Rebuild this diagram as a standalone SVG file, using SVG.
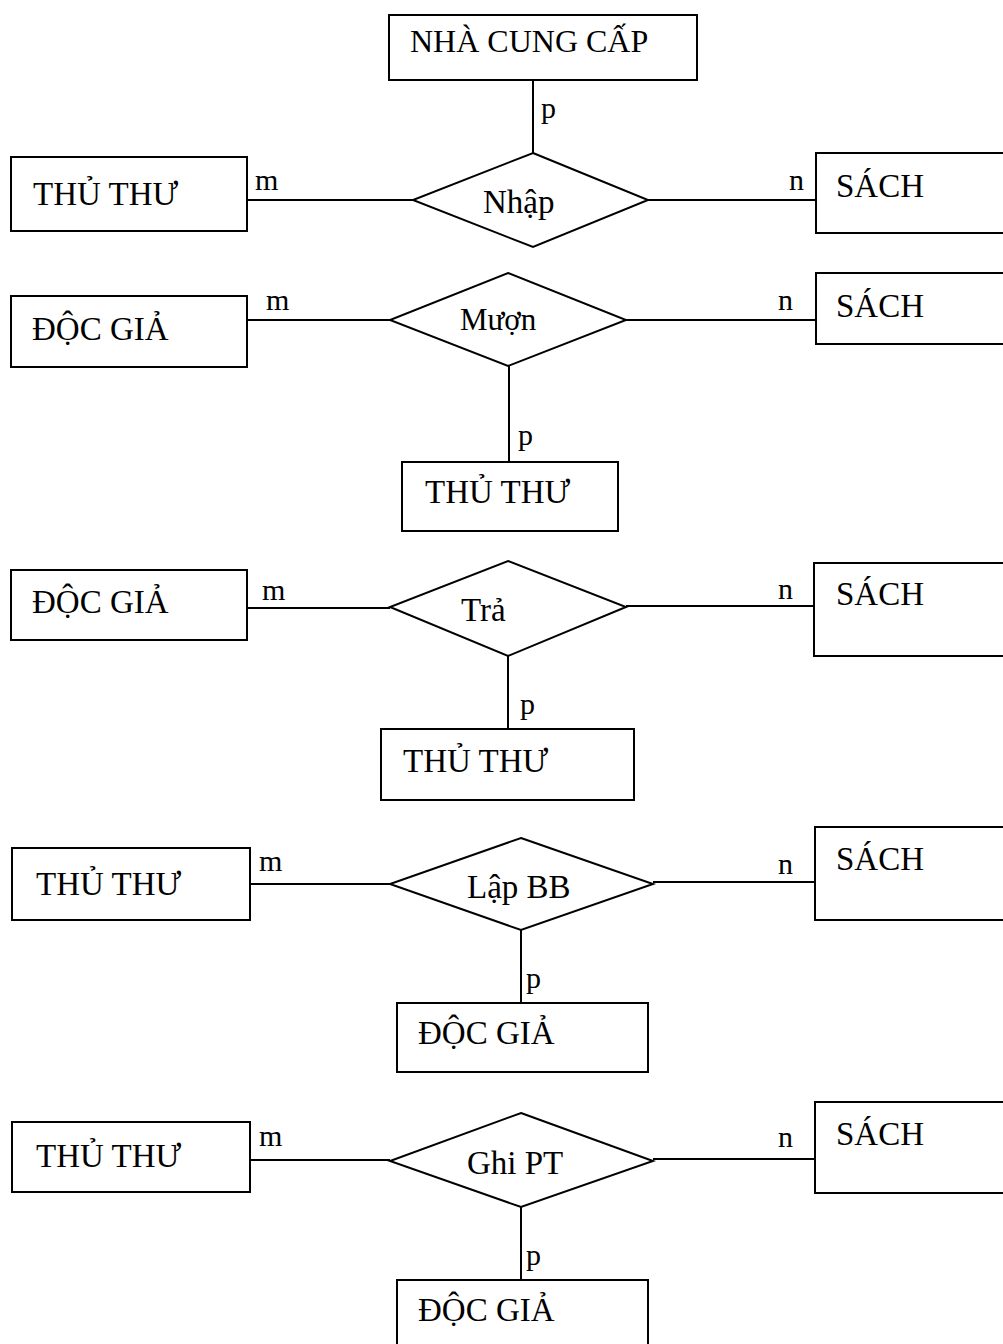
<svg xmlns="http://www.w3.org/2000/svg" width="1003" height="1344" viewBox="0 0 1003 1344">
  <style>
    .box { fill: #ffffff; stroke: #000000; stroke-width: 2; }
    .rel { fill: #ffffff; stroke: #000000; stroke-width: 2; }
    .ln { stroke: #000000; stroke-width: 2; fill: none; }
    .t { font-family: "Liberation Serif", "Times New Roman", serif; font-size: 33px; fill: #000000; }
    .tw { font-family: "Liberation Serif", "Times New Roman", serif; font-size: 32px; fill: #000000; }
    .rt { font-family: "Liberation Serif", "Times New Roman", serif; font-size: 33px; fill: #000000; }
    .rs { font-family: "Liberation Serif", "Times New Roman", serif; font-size: 31px; fill: #000000; }
    .c { font-family: "Liberation Serif", "Times New Roman", serif; font-size: 30px; fill: #000000; }
  </style>
  <rect width="1003" height="1344" fill="#ffffff"/>

  <!-- connectors and cardinality labels -->
  <g id="connectors">
    <!-- Nhập -->
    <line class="ln" x1="533" y1="80" x2="533" y2="153"/>
    <line class="ln" x1="247" y1="200" x2="413" y2="200"/>
    <line class="ln" x1="648" y1="200" x2="816" y2="200"/>
    <text class="c" x="541" y="118">p</text>
    <text class="c" x="255" y="190">m</text>
    <text class="c" x="789" y="190">n</text>
    <!-- Mượn -->
    <line class="ln" x1="247" y1="320" x2="390" y2="320"/>
    <line class="ln" x1="626" y1="320" x2="816" y2="320"/>
    <line class="ln" x1="509" y1="366" x2="509" y2="462"/>
    <text class="c" x="266" y="310">m</text>
    <text class="c" x="778" y="310">n</text>
    <text class="c" x="518" y="445">p</text>
    <!-- Trả -->
    <line class="ln" x1="247" y1="608" x2="390" y2="608"/>
    <line class="ln" x1="626" y1="606" x2="814" y2="606"/>
    <line class="ln" x1="508" y1="656" x2="508" y2="729"/>
    <text class="c" x="262" y="600">m</text>
    <text class="c" x="778" y="599">n</text>
    <text class="c" x="520" y="714">p</text>
    <!-- Lập BB -->
    <line class="ln" x1="250" y1="884" x2="390" y2="884"/>
    <line class="ln" x1="653" y1="882" x2="816" y2="882"/>
    <line class="ln" x1="521" y1="930" x2="521" y2="1003"/>
    <text class="c" x="259" y="871">m</text>
    <text class="c" x="778" y="874">n</text>
    <text class="c" x="526" y="988">p</text>
    <!-- Ghi PT -->
    <line class="ln" x1="250" y1="1160" x2="390" y2="1160"/>
    <line class="ln" x1="653" y1="1159" x2="816" y2="1159"/>
    <line class="ln" x1="521" y1="1207" x2="521" y2="1280"/>
    <text class="c" x="259" y="1146">m</text>
    <text class="c" x="778" y="1147">n</text>
    <text class="c" x="526" y="1265">p</text>
  </g>

  <!-- Nhập relationship -->
  <g id="nha-cung-cap">
    <rect class="box" x="389" y="15" width="308" height="65"/>
    <text class="tw" x="410" y="52">NHÀ CUNG CẤP</text>
  </g>
  <g id="thu-thu-1">
    <rect class="box" x="11" y="157" width="236" height="74"/>
    <text class="t" x="33" y="205">THỦ THƯ</text>
  </g>
  <g id="nhap">
    <polygon class="rel" points="533,153 648,200 533,247 413,200"/>
    <text class="rt" x="483" y="213">Nhập</text>
  </g>
  <g id="sach-1">
    <rect class="box" x="816" y="153" width="200" height="80"/>
    <text class="t" x="836" y="197">SÁCH</text>
  </g>

  <!-- Mượn relationship -->
  <g id="doc-gia-1">
    <rect class="box" x="11" y="296" width="236" height="71"/>
    <text class="t" x="32" y="340">ĐỘC GIẢ</text>
  </g>
  <g id="muon">
    <polygon class="rel" points="508,273 626,320 508,366 390,320"/>
    <text class="rs" x="460" y="330">Mượn</text>
  </g>
  <g id="sach-2">
    <rect class="box" x="816" y="273" width="200" height="71"/>
    <text class="t" x="836" y="317">SÁCH</text>
  </g>
  <g id="thu-thu-2">
    <rect class="box" x="402" y="462" width="216" height="69"/>
    <text class="t" x="425" y="503">THỦ THƯ</text>
  </g>

  <!-- Trả relationship -->
  <g id="doc-gia-2">
    <rect class="box" x="11" y="570" width="236" height="70"/>
    <text class="t" x="32" y="613">ĐỘC GIẢ</text>
  </g>
  <g id="tra">
    <polygon class="rel" points="508,561 626,607 508,656 390,607"/>
    <text class="rt" x="461" y="621">Trả</text>
  </g>
  <g id="sach-3">
    <rect class="box" x="814" y="563" width="200" height="93"/>
    <text class="t" x="836" y="605">SÁCH</text>
  </g>
  <g id="thu-thu-3">
    <rect class="box" x="381" y="729" width="253" height="71"/>
    <text class="t" x="403" y="772">THỦ THƯ</text>
  </g>

  <!-- Lập BB relationship -->
  <g id="thu-thu-4">
    <rect class="box" x="12" y="848" width="238" height="72"/>
    <text class="t" x="36" y="895">THỦ THƯ</text>
  </g>
  <g id="lap-bb">
    <polygon class="rel" points="521,838 653,884 521,930 390,884"/>
    <text class="rt" x="467" y="898">Lập BB</text>
  </g>
  <g id="sach-4">
    <rect class="box" x="815" y="827" width="200" height="93"/>
    <text class="t" x="836" y="870">SÁCH</text>
  </g>
  <g id="doc-gia-3">
    <rect class="box" x="397" y="1003" width="251" height="69"/>
    <text class="t" x="418" y="1044">ĐỘC GIẢ</text>
  </g>

  <!-- Ghi PT relationship -->
  <g id="thu-thu-5">
    <rect class="box" x="12" y="1122" width="238" height="70"/>
    <text class="t" x="36" y="1167">THỦ THƯ</text>
  </g>
  <g id="ghi-pt">
    <polygon class="rel" points="521,1113 653,1161 521,1207 390,1161"/>
    <text class="rt" x="467" y="1174">Ghi PT</text>
  </g>
  <g id="sach-5">
    <rect class="box" x="815" y="1102" width="200" height="91"/>
    <text class="t" x="836" y="1145">SÁCH</text>
  </g>
  <g id="doc-gia-4">
    <rect class="box" x="397" y="1280" width="251" height="80"/>
    <text class="t" x="418" y="1321">ĐỘC GIẢ</text>
  </g>
</svg>
